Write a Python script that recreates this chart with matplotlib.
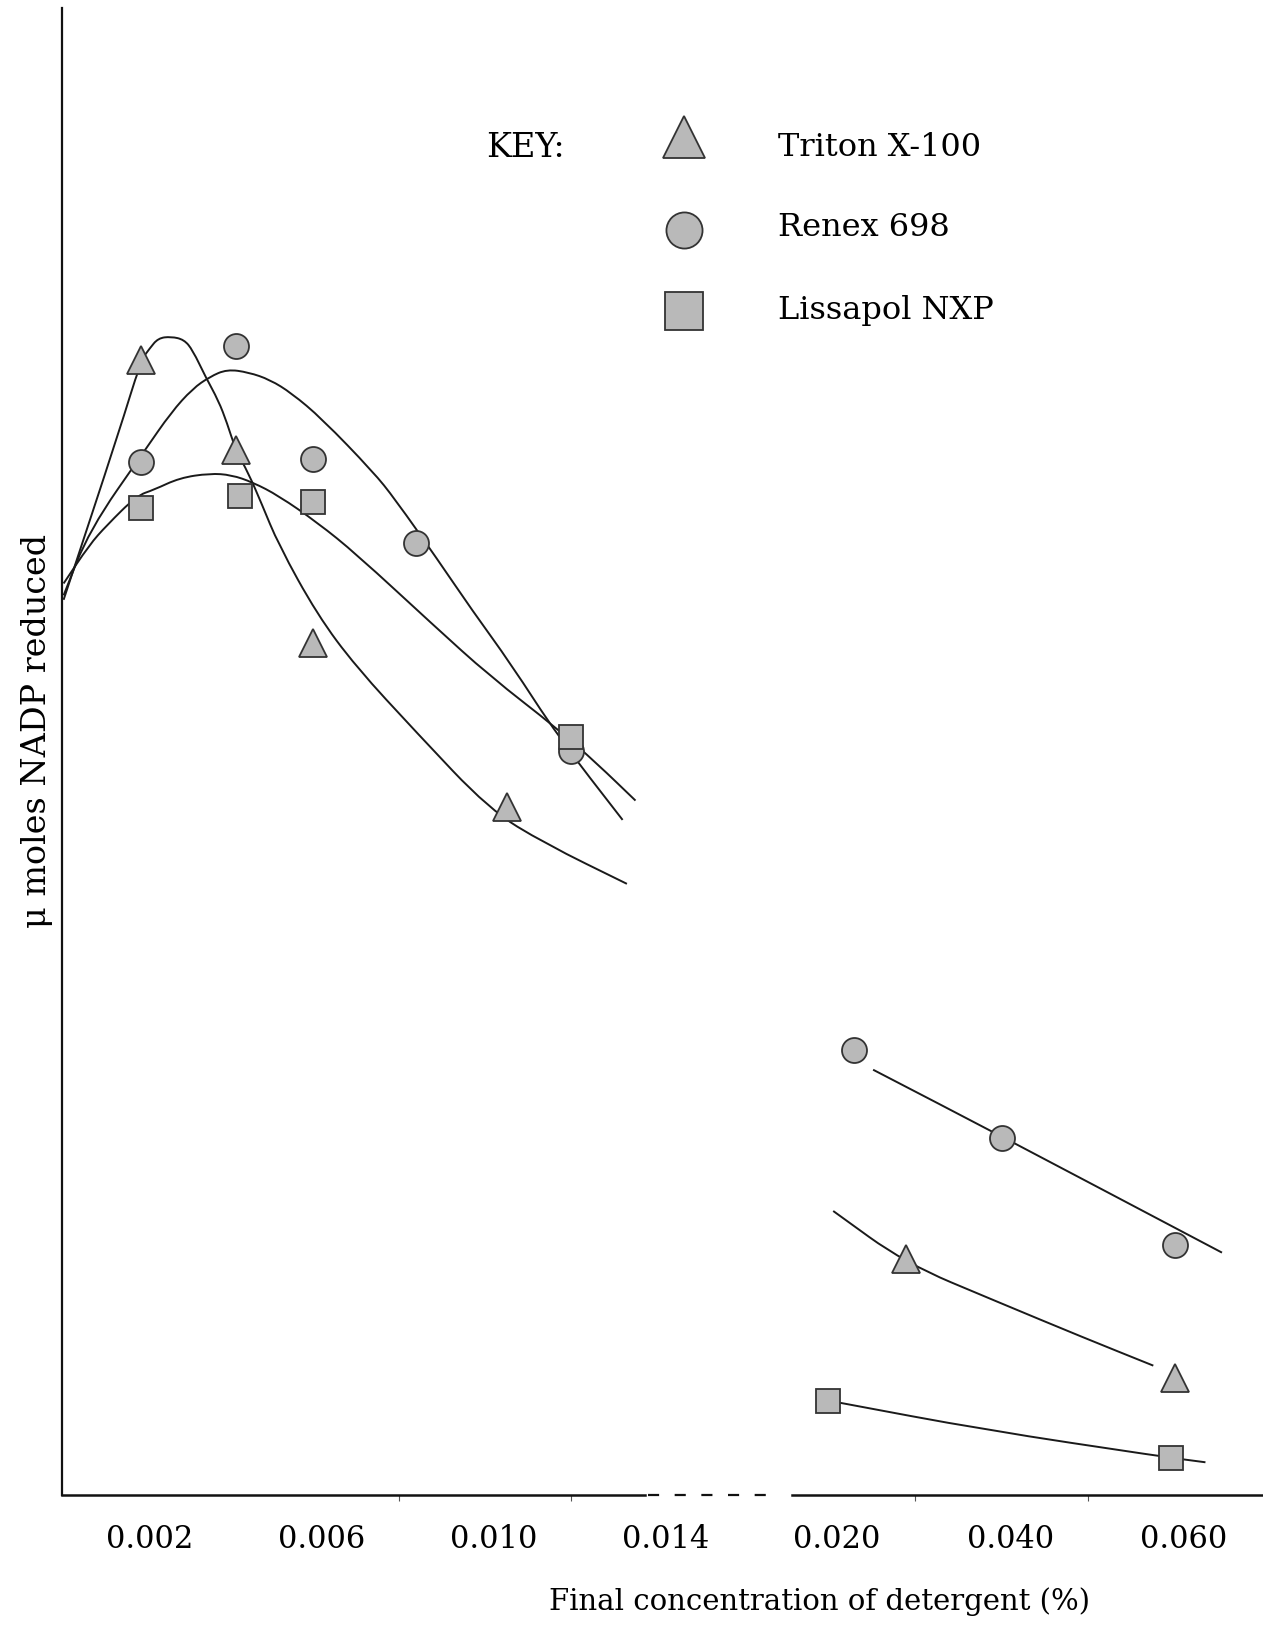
import numpy as np
import matplotlib
matplotlib.use("Agg")
import matplotlib.pyplot as plt
from matplotlib.path import Path
from matplotlib.patches import PathPatch
from matplotlib.lines import Line2D
from matplotlib.transforms import ScaledTranslation

plt.rcParams['font.family'] = ['DejaVu Serif', 'DejaVu Sans']

# ---- data (y in arbitrary units, axis 0..100) ----
TICK_VALUES = [0.002, 0.006, 0.010, 0.014, 0.020, 0.040, 0.060]
TICK_LABELS = ["0.002", "0.006", "0.010", "0.014", "0.020", "0.040", "0.060"]
MINOR_TICKS = [0.006, 0.008, 0.012, 0.030, 0.050]

triton_x = [0.002, 0.0042, 0.006, 0.0105, 0.029, 0.060]
triton_y = [76.3, 70.3, 57.3, 46.3, 15.9, 7.9]
renex_x = [0.002, 0.0042, 0.006, 0.0084, 0.012, 0.023, 0.040, 0.060]
renex_y = [69.5, 77.3, 69.7, 64.0, 50.0, 29.9, 24.0, 16.8]
lissapol_x = [0.002, 0.0043, 0.006, 0.012, 0.020, 0.0595]
lissapol_y = [66.4, 67.2, 66.8, 51.0, 6.3, 2.5]

# hand-drawn fitted curves
triton_curve_x = [0.0002, 0.0015, 0.0020, 0.0022, 0.0024, 0.0027, 0.0030, 0.0032,
                  0.0035, 0.0038, 0.0040, 0.0042, 0.0045, 0.0048, 0.0052, 0.0061,
                  0.0070, 0.0084, 0.0101, 0.0114, 0.0133]
triton_curve_y = [60.2, 71.6, 76.3, 77.1, 77.8, 77.9, 77.7, 77.0,
                  75.2, 73.6, 72.1, 70.3, 68.7, 66.7, 63.9, 59.2,
                  55.7, 51.3, 46.1, 43.8, 41.1]
renex_curve_x = [0.0002, 0.0008, 0.0021, 0.0027, 0.0032, 0.0036, 0.0040, 0.0045,
                 0.0050, 0.0055, 0.0062, 0.0074, 0.0079, 0.0089, 0.0097, 0.0106,
                 0.0117, 0.0132]
renex_curve_y = [60.5, 64.9, 70.3, 72.8, 74.4, 75.2, 75.7, 75.5,
                 75.0, 74.1, 72.4, 68.8, 67.0, 62.9, 59.5, 55.9,
                 51.0, 45.4]
lissapol_curve_x = [0.0002, 0.0008, 0.0012, 0.0019, 0.0023, 0.0029, 0.0036, 0.0041,
                    0.0046, 0.0052, 0.0061, 0.0070, 0.0088, 0.0101, 0.0117, 0.0126,
                    0.0135]
lissapol_curve_y = [61.3, 63.9, 65.2, 67.2, 67.6, 68.4, 68.7, 68.6,
                    68.1, 67.2, 65.4, 63.3, 58.5, 55.1, 51.5, 49.2,
                    46.7]

# lines over the high concentration range
triton_line_x = [0.0206, 0.0289, 0.0395, 0.0494, 0.0575]
triton_line_y = [19.1, 15.6, 13.0, 10.6, 8.7]
renex_line_x = [0.0252, 0.0404, 0.0654]
renex_line_y = [28.6, 24.0, 16.3]
lissapol_line_x = [0.0214, 0.0379, 0.0583, 0.0635]
lissapol_line_y = [6.2, 4.4, 2.6, 2.2]

# ---- broken x axis: piecewise linear scale ----
SCALE_CONC = [-0.001, 0.0, 0.014, 0.020, 0.060, 0.070, 0.080]
SCALE_POS = [12, 55, 657, 828, 1175, 1262, 1349]


def fwd(x):
    return np.interp(x, SCALE_CONC, SCALE_POS)


def inv(p):
    return np.interp(p, SCALE_POS, SCALE_CONC)


def smooth_path(xs, ys):
    """quadratic bezier through the midpoints of the traced points"""
    pts = np.column_stack([xs, ys])
    if len(pts) == 2:
        return Path(pts, [Path.MOVETO, Path.LINETO])
    verts = [pts[0], (pts[0] + pts[1]) / 2]
    codes = [Path.MOVETO, Path.LINETO]
    for i in range(1, len(pts) - 1):
        verts += [pts[i], (pts[i] + pts[i + 1]) / 2]
        codes += [Path.CURVE3, Path.CURVE3]
    verts.append(pts[-1])
    codes.append(Path.LINETO)
    return Path(verts, codes)


W, H = 1263, 1626
fig = plt.figure(figsize=(W / 100, H / 100), dpi=100)
ax = fig.add_axes([62 / W, 1 - 1495 / H, (W - 62) / W, (1495 - 8) / H])
ax.set_xscale('function', functions=(fwd, inv))
ax.set_xlim(inv(62), inv(1263))
ax.set_ylim(0, 100)

for cx, cy in [(triton_curve_x, triton_curve_y), (renex_curve_x, renex_curve_y),
               (lissapol_curve_x, lissapol_curve_y), (triton_line_x, triton_line_y),
               (renex_line_x, renex_line_y), (lissapol_line_x, lissapol_line_y)]:
    ax.add_patch(PathPatch(smooth_path(cx, cy), fill=False, transform=ax.transData,
                           edgecolor='#1a1a1a', lw=1.4))

mk_kw = dict(ls='none', markerfacecolor='#b9b9b9', markeredgecolor='#333333',
             markeredgewidth=1.3, zorder=5)
ax.plot(triton_x, triton_y, marker='^', ms=20, **mk_kw)
ax.plot(renex_x, renex_y, marker='o', ms=18, **mk_kw)
ax.plot(lissapol_x, lissapol_y, marker='s', ms=17, **mk_kw)

# axes styling
for s in ['top', 'right', 'bottom']:
    ax.spines[s].set_visible(False)
ax.spines['left'].set_linewidth(1.6)
ax.spines['left'].set_color('#111111')
ax.set_yticks([])

ax.set_xticks(TICK_VALUES)
ax.set_xticklabels(TICK_LABELS, fontsize=22)
ax.set_xticks(MINOR_TICKS, minor=True)
ax.tick_params(axis='x', which='major', length=0, pad=21)
ax.tick_params(axis='x', which='minor', length=4, width=0.8, direction='out', color='#555555')
for lab in ax.get_xticklabels():
    lab.set_transform(lab.get_transform() + ScaledTranslation(0.09, 0, fig.dpi_scale_trans))

# broken x axis line
xt = ax.get_xaxis_transform()
ax.plot([ax.get_xlim()[0], inv(645)], [0, 0], transform=xt, color='#111111', lw=1.8, clip_on=False)
ax.plot([inv(648), inv(772)], [0, 0], transform=xt, color='#111111', lw=1.6,
        ls=(0, (5, 7)), clip_on=False)
ax.plot([inv(792), ax.get_xlim()[1]], [0, 0], transform=xt, color='#111111', lw=1.8, clip_on=False)

fig.text(819 / W, 1 - 1602 / H, "Final concentration of detergent (%)", fontsize=21,
         ha='center', va='center')
fig.text(37 / W, 1 - 731 / H, "\u03bc moles NADP reduced", fontsize=24, rotation=90,
         ha='center', va='center')

# key
fig.text(525 / W, 1 - 148 / H, "KEY:", fontsize=24, ha='center', va='center')
key_items = [('^', 30, 137, 148, "Triton X-100"),
             ('o', 26, 230, 228, "Renex 698"),
             ('s', 27, 311, 311, "Lissapol NXP")]
for m, ms, ym, yt, txt in key_items:
    fig.add_artist(Line2D([684 / W], [1 - ym / H], marker=m, ms=ms, transform=fig.transFigure,
                          ls='none', markerfacecolor='#b9b9b9', markeredgecolor='#333333',
                          markeredgewidth=1.3))
    fig.text(778 / W, 1 - yt / H, txt, fontsize=23, ha='left', va='center')

fig.savefig('out.png', dpi=100)
